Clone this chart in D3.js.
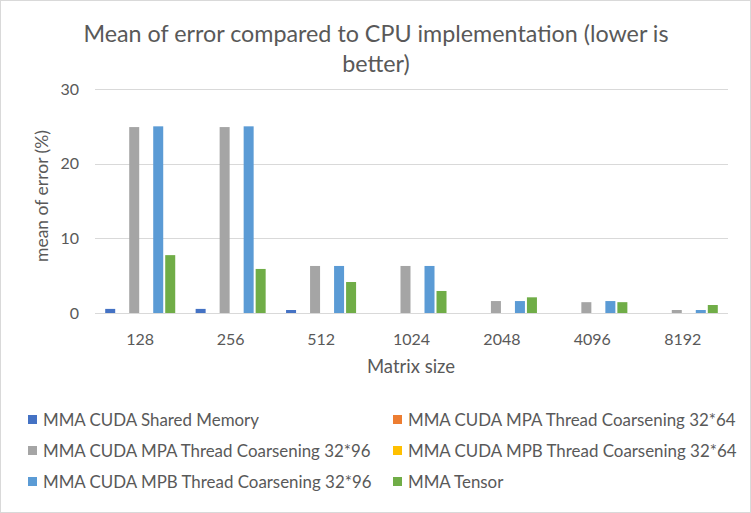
<!DOCTYPE html>
<html><head><meta charset="utf-8">
<script src="https://cdn.jsdelivr.net/npm/d3@7"></script>
<style>
html,body{margin:0;padding:0;background:#fff;}
svg{display:block;font-family:Lato,"Open Sans",sans-serif;}
</style></head><body>
<svg id="chart" width="751" height="513"></svg>
<script>
const categories = ["128","256","512","1024","2048","4096","8192"];
const seriesNames = [
  "MMA CUDA Shared Memory",
  "MMA CUDA MPA Thread Coarsening 32*64",
  "MMA CUDA MPA Thread Coarsening 32*96",
  "MMA CUDA MPB Thread Coarsening 32*64",
  "MMA CUDA MPB Thread Coarsening 32*96",
  "MMA Tensor"
];
const sharedMemory = [0.55, 0.55, 0.4, 0, 0, 0, 0];
const mpa3264 = [0, 0, 0, 0, 0, 0, 0];
const mpa3296 = [24.9, 24.9, 6.3, 6.3, 1.6, 1.45, 0.4];
const mpb3264 = [0, 0, 0, 0, 0, 0, 0];
const mpb3296 = [25.0, 25.0, 6.3, 6.3, 1.6, 1.6, 0.4];
const tensor = [7.75, 5.9, 4.15, 2.95, 2.1, 1.45, 1.07];
const yTicks = [0, 10, 20, 30];
const colors = ["#4472C4","#ED7D31","#A5A5A5","#FFC000","#5B9BD5","#70AD47"];

const seriesValues = [sharedMemory, mpa3264, mpa3296, mpb3264, mpb3296, tensor];

const svg = d3.select("#chart");
const W = 751, H = 513;
const plot = {left: 95, right: 728, top: 89, bottom: 313};

svg.append("rect").attr("x",0.5).attr("y",0.5).attr("width",W-1).attr("height",H-1)
  .attr("fill","#fff").attr("stroke","#d9d9d9");

const x0 = d3.scaleBand().domain(categories).range([plot.left, plot.right]).padding(0);
const x1 = d3.scaleBand().domain(d3.range(seriesNames.length))
  .range([0, x0.bandwidth()]).paddingInner(1/6).paddingOuter(0.85);
const y = d3.scaleLinear().domain([0, 30]).range([plot.bottom, plot.top]);

// gridlines
svg.append("g").selectAll("line").data(yTicks).join("line")
  .attr("x1", plot.left).attr("x2", plot.right)
  .attr("y1", d => Math.round(y(d)) + 0.5).attr("y2", d => Math.round(y(d)) + 0.5)
  .attr("stroke", "#d9d9d9").attr("stroke-width", 1);

// y tick labels
svg.append("g").selectAll("text").data(yTicks).join("text")
  .attr("x", 79).attr("y", d => y(d)).attr("dy", "0.35em")
  .attr("text-anchor", "end").attr("fill", "#595959").attr("font-size", 16)
  .text(d => d);

// bars
const g = svg.append("g");
categories.forEach((c, ci) => {
  seriesValues.forEach((vals, si) => {
    const v = vals[ci];
    if (v <= 0) return;
    g.append("rect")
      .attr("x", x0(c) + x1(si))
      .attr("width", x1.bandwidth())
      .attr("y", y(v))
      .attr("height", y(0) - y(v))
      .attr("fill", colors[si]);
  });
});

// x labels
svg.append("g").selectAll("text").data(categories).join("text")
  .attr("x", d => x0(d) + x0.bandwidth()/2).attr("y", 339).attr("dy", "0.35em")
  .attr("text-anchor", "middle").attr("fill", "#595959").attr("font-size", 16)
  .text(d => d);

// axis titles
svg.append("text").attr("x", 411).attr("y", 367).attr("dy", "0.35em")
  .attr("text-anchor", "middle").attr("fill", "#595959").attr("font-size", 18.5)
  .text("Matrix size");
svg.append("text").attr("transform", "translate(42,196) rotate(-90)").attr("dy", "0.35em")
  .attr("text-anchor", "middle").attr("fill", "#595959").attr("font-size", 17.5)
  .text("mean of error (%)");

// title
const title = svg.append("text").attr("text-anchor", "middle").attr("fill", "#595959").attr("font-size", 23.3);
title.append("tspan").attr("x", 376).attr("y", 42).text("Mean of error compared to CPU implementation (lower is");
title.append("tspan").attr("x", 376).attr("y", 72).text("better)");

// legend
const legendPos = [[28,420],[393,420],[28,451],[393,451],[28,482],[393,482]];
const lg = svg.append("g");
seriesNames.forEach((name, i) => {
  const [lx, ly] = legendPos[i];
  lg.append("rect").attr("x", lx).attr("y", ly - 5).attr("width", 9).attr("height", 9).attr("fill", colors[i]);
  lg.append("text").attr("x", lx + 15).attr("y", ly).attr("dy", "0.35em")
    .attr("fill", "#595959").attr("font-size", 16.9).text(name);
});
</script>
</body></html>
